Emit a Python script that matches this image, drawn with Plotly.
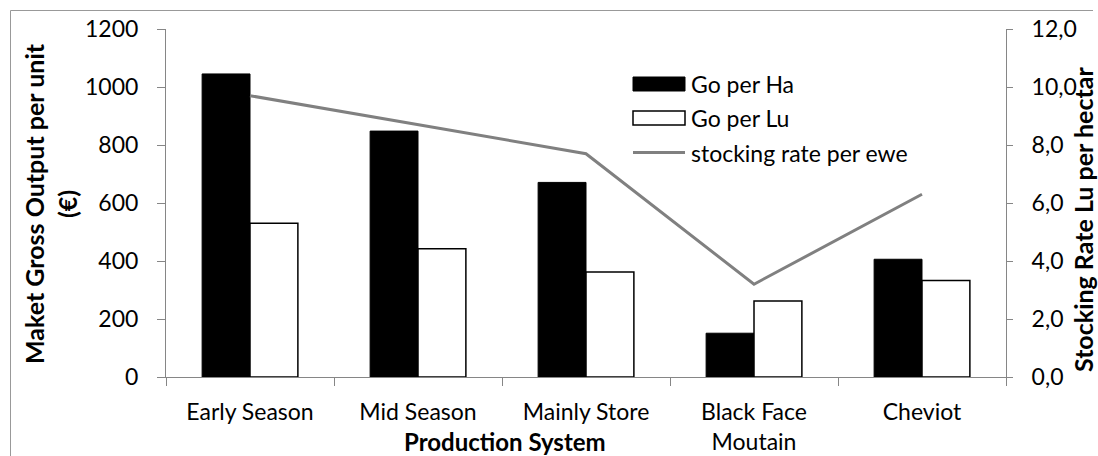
import plotly.graph_objects as go

# Production systems and their gross output / stocking figures
categories = ["Early Season", "Mid Season", "Mainly Store", "Black Face<br>Moutain", "Cheviot"]
go_per_ha = [1045, 848, 671, 151, 406]
go_per_lu = [530, 442, 362, 262, 333]
stocking_rate = [9.7, 8.7, 7.7, 3.2, 6.3]

legend_labels = ["Go per Ha", "Go per Lu", "stocking rate per ewe"]

W, H = 1098, 456
L, R, T, B = 166, 92, 29, 79
PW, PH = W - L - R, H - T - B

AXIS_GREY = "#868686"
LINE_GREY = "#808080"
FONT = "Lato"
FS = 23


def px_x(x):
    return (x - L) / PW


def px_y(y):
    return (T + PH - y) / PH


fig = go.Figure()
fig.add_trace(go.Bar(
    x=categories, y=go_per_ha, name=legend_labels[0],
    marker=dict(color="black", line=dict(color="black", width=1)),
    showlegend=False,
))
fig.add_trace(go.Bar(
    x=categories, y=go_per_lu, name=legend_labels[1],
    marker=dict(color="white", line=dict(color="black", width=1.5)),
    showlegend=False,
))
fig.add_trace(go.Scatter(
    x=categories, y=stocking_rate, name=legend_labels[2], yaxis="y2",
    mode="lines", line=dict(color=LINE_GREY, width=3),
    showlegend=False,
))

shapes = []
annotations = []

# outer frame (left and top edges)
shapes.append(dict(type="line", xref="paper", yref="paper",
                   x0=px_x(10.5), x1=px_x(10.5), y0=px_y(10.5), y1=px_y(460),
                   line=dict(color="#999999", width=1)))
shapes.append(dict(type="line", xref="paper", yref="paper",
                   x0=px_x(10.5), x1=px_x(1093), y0=px_y(10.5), y1=px_y(10.5),
                   line=dict(color="#999999", width=1)))

# legend block
sw_x0, sw_x1, txt_x = 633, 685, 689
rows_y = [84, 118, 152.5]
shapes.append(dict(type="rect", xref="paper", yref="paper",
                   x0=px_x(sw_x0), x1=px_x(sw_x1), y0=px_y(rows_y[0] - 7), y1=px_y(rows_y[0] + 7),
                   fillcolor="black", line=dict(color="black", width=1)))
shapes.append(dict(type="rect", xref="paper", yref="paper",
                   x0=px_x(sw_x0), x1=px_x(sw_x1), y0=px_y(rows_y[1] - 7), y1=px_y(rows_y[1] + 7),
                   fillcolor="white", line=dict(color="black", width=1.5)))
shapes.append(dict(type="line", xref="paper", yref="paper",
                   x0=px_x(sw_x0), x1=px_x(sw_x1), y0=px_y(rows_y[2]), y1=px_y(rows_y[2]),
                   line=dict(color=LINE_GREY, width=3)))
for lbl, ry in zip(legend_labels, rows_y):
    annotations.append(dict(text=lbl, xref="paper", yref="paper",
                            x=px_x(txt_x), y=px_y(ry), xanchor="left", yanchor="middle",
                            showarrow=False, font=dict(family=FONT, size=FS, color="black")))

# axis titles
annotations.append(dict(text="<b>Maket Gross Output per unit<br>(€)</b>", xref="paper", yref="paper",
                        x=px_x(50), y=px_y(203), xanchor="center", yanchor="middle",
                        textangle=-90, showarrow=False,
                        font=dict(family=FONT, size=25, color="black")))
annotations.append(dict(text="<b>Stocking Rate Lu per hectar</b>", xref="paper", yref="paper",
                        x=px_x(1083), y=px_y(220), xanchor="center", yanchor="middle",
                        textangle=-90, showarrow=False,
                        font=dict(family=FONT, size=25, color="black")))
annotations.append(dict(text="<b>Production System</b>", xref="paper", yref="paper",
                        x=px_x(505), y=px_y(441), xanchor="center", yanchor="middle",
                        showarrow=False, font=dict(family=FONT, size=24, color="black")))

fig.update_layout(
    width=W, height=H, autosize=False,
    margin=dict(l=L, r=R, t=T, b=B, pad=0),
    paper_bgcolor="white", plot_bgcolor="white",
    font=dict(family=FONT, size=FS, color="black"),
    separators=", ",
    barmode="group", bargap=0.43, bargroupgap=0,
    shapes=shapes, annotations=annotations,
    xaxis=dict(type="category", tickson="boundaries", ticks="outside", ticklen=8,
               tickcolor=AXIS_GREY, showline=True, linecolor=AXIS_GREY, linewidth=1,
               showgrid=False, zeroline=False, ticklabelstandoff=14, automargin=False,
               tickfont=dict(family=FONT, size=FS, color="black")),
    yaxis=dict(range=[0, 1200], dtick=200, tickformat="d", ticks="outside", ticklen=8,
               tickcolor=AXIS_GREY, showline=True, linecolor=AXIS_GREY, linewidth=1,
               showgrid=False, zeroline=False, ticklabelstandoff=14, automargin=False,
               tickfont=dict(family=FONT, size=FS, color="black")),
    yaxis2=dict(range=[0, 12], dtick=2, tickformat=".1f", overlaying="y", side="right",
                ticks="outside", ticklen=6, tickcolor=AXIS_GREY, showline=True,
                linecolor=AXIS_GREY, linewidth=1, showgrid=False, zeroline=False,
                ticklabelstandoff=14, automargin=False,
                tickfont=dict(family=FONT, size=FS, color="black")),
)

fig.write_html("out.html")
